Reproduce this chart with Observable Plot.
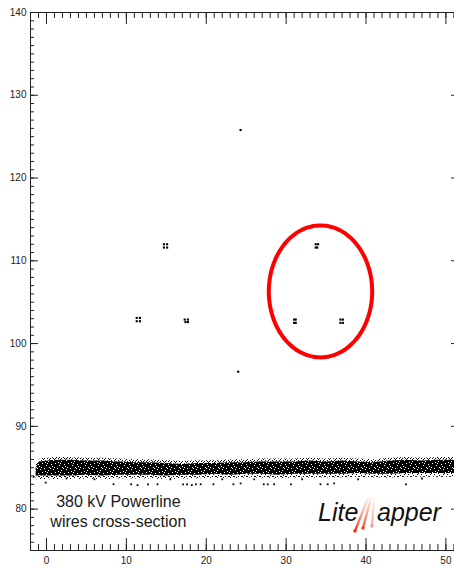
<!DOCTYPE html>
<html>
<head>
<meta charset="utf-8">
<script src="https://cdn.jsdelivr.net/npm/d3@7"></script>
<script src="https://cdn.jsdelivr.net/npm/@observablehq/plot@0.6"></script>
<style>
  html, body { margin: 0; padding: 0; background: #fff; overflow: hidden; }
  #wrap { width: 454px; height: 568px; overflow: hidden; position: relative; }
  #wrap svg { max-width: none !important; }
</style>
</head>
<body>
<div id="wrap"></div>
<script>
// ---- data ----
const xDomain = [-2, 51.7];
const yDomain = [75, 140];
const xMajor = [0, 10, 20, 30, 40, 50];
const xMinor = d3.range(-1, 52, 1);
const yMajor = [80, 90, 100, 110, 120, 130, 140];
const yMinor = d3.range(76, 140, 1);

// wire returns (x, y) in metres
const wireX = [11.3, 11.7, 11.3, 11.7,  14.7, 15.1, 14.7, 15.1,  17.3, 17.7, 17.4, 17.7,
               31.0, 31.2, 31.0, 31.2,  33.7, 34.0, 33.7, 33.9,  36.8, 37.1, 36.8, 37.1,
               24.0, 24.3];
const wireY = [103.1, 103.1, 102.7, 102.7,  112.0, 112.0, 111.6, 111.6,  102.9, 102.9, 102.6, 102.6,
               102.9, 102.9, 102.5, 102.5,  112.0, 112.0, 111.6, 111.6,  102.9, 102.9, 102.5, 102.5,
               96.6, 125.8];

// ground surface returns: upper / lower edge of the dense band
const groundX   = [-1.3, -0.8, 1, 3, 5, 7, 9, 11, 13, 15, 17, 19, 21, 23, 25, 27, 29, 31, 33, 35, 37, 39, 41, 43, 45, 47, 49, 51.7];
const groundTop = [85.0, 85.7, 85.9, 85.9, 85.8, 85.8, 85.7, 85.6, 85.6, 85.5, 85.4, 85.5, 85.5, 85.6, 85.6, 85.7, 85.7, 85.7, 85.8, 85.7, 85.8, 85.7, 85.6, 85.8, 85.9, 85.8, 85.9, 85.9];
const groundBot = [84.0, 84.0, 84.0, 84.0, 84.1, 84.0, 84.1, 84.1, 84.1, 84.0, 84.1, 84.1, 84.2, 84.1, 84.2, 84.2, 84.1, 84.2, 84.2, 84.2, 84.2, 84.3, 84.2, 84.2, 84.3, 84.3, 84.3, 84.3];

// scattered returns below the ground band
const lowX = [-1.6, -0.1, 2.5, 6, 8.4, 10.6, 11.4, 12.7, 13.9, 15.5, 17.1, 17.6, 18.2, 18.7, 19.3, 20.9, 22, 23.4, 24.3, 26, 27.2, 27.7, 28.5, 30.6, 32, 34.3, 35.2, 36.0, 39, 45.0, 47];
const lowY = [83.9, 83.2, 83.7, 83.6, 83.0, 83.0, 82.9, 83.0, 83.0, 83.6, 83.0, 83.0, 82.9, 83.0, 83.0, 83.0, 83.6, 83.0, 83.1, 83.6, 83.0, 83.0, 83.0, 83.0, 83.6, 83.0, 83.0, 83.1, 83.6, 83.0, 83.7];

// highlighted ellipse (centre and radii, metres)
const ellipseCenter = [34.3, 106.3];
const ellipseRadii = [6.47, 7.97];

const titleLines = ["380 kV Powerline", "wires cross-section"];

// ---- build ----
const W = 460, H = 568, mL = 30, mR = 1, mT = 12, mB = 18;
const innerW = W - mL - mR, innerH = H - mT - mB;

const wires = wireX.map((x, i) => ({x, y: wireY[i]}));
const ground = groundX.map((x, i) => ({x, top: groundTop[i], bot: groundBot[i]}));
const low = lowX.map((x, i) => ({x, y: lowY[i]}));
const ell = d3.range(0, 361, 4).map(a => ({
  x: ellipseCenter[0] + ellipseRadii[0] * Math.cos(a * Math.PI / 180),
  y: ellipseCenter[1] + ellipseRadii[1] * Math.sin(a * Math.PI / 180)
}));

const chart = Plot.plot({
  width: W, height: H,
  marginLeft: mL, marginRight: mR, marginTop: mT, marginBottom: mB,
  style: {fontFamily: "'Liberation Sans', Arial, sans-serif", fontSize: "10px", color: "#222", background: "#fff"},
  x: {domain: xDomain, label: null},
  y: {domain: yDomain, label: null},
  marks: [
    // fringe above and below the dense band
    Plot.areaY(ground, {x: "x", y1: "top", y2: d => d.top + 0.35, fill: "url(#sparse)"}),
    Plot.areaY(ground, {x: "x", y1: d => d.bot - 0.45, y2: "bot", fill: "url(#sparse2)"}),
    Plot.areaY(ground, {x: "x", y1: "bot", y2: "top", fill: "url(#speckle)"}),
    Plot.dot(low, {x: "x", y: "y", symbol: "square", r: 1.0, fill: "black", stroke: null}),
    Plot.dot(wires, {x: "x", y: "y", symbol: "square", r: 1.2, fill: "black", stroke: null}),
    Plot.line(ell, {x: "x", y: "y", stroke: "#f00", strokeWidth: 4, curve: "catmull-rom"}),
    // inward ticks, IDL style
    Plot.tickX(xMinor, {x: d => d, insetTop: innerH - 6, stroke: "#222"}),
    Plot.tickX(xMajor, {x: d => d, insetTop: innerH - 12, stroke: "#222"}),
    Plot.tickX(xMinor, {x: d => d, insetBottom: innerH - 6, stroke: "#222"}),
    Plot.tickX(xMajor, {x: d => d, insetBottom: innerH - 12, stroke: "#222"}),
    Plot.tickY(yMinor, {y: d => d, insetRight: innerW - 4, stroke: "#222"}),
    Plot.tickY(yMajor, {y: d => d, insetRight: innerW - 8, stroke: "#222"}),
    Plot.tickY(yMinor, {y: d => d, insetLeft: innerW - 4, stroke: "#222"}),
    Plot.tickY(yMajor, {y: d => d, insetLeft: innerW - 8, stroke: "#222"}),
    Plot.frame({stroke: "#222"}),
    Plot.axisX({ticks: xMajor, tickSize: 0, tickPadding: 6, tickFormat: d => String(d), fontSize: 10, label: null}),
    Plot.axisY({ticks: yMajor, tickSize: 0, tickPadding: 4, tickFormat: d => String(d), fontSize: 10, label: null}),
    Plot.text([titleLines[0]], {x: 9.0, y: 80.2, text: d => d, fontSize: 16, fill: "#1a1a1a", lineAnchor: "bottom", textAnchor: "middle"}),
    Plot.text([titleLines[1]], {x: 9.0, y: 77.8, text: d => d, fontSize: 16, fill: "#1a1a1a", lineAnchor: "bottom", textAnchor: "middle"})
  ]
});
chart.style.maxWidth = "none";
chart.style.height = H + "px";
document.getElementById("wrap").appendChild(chart);

// patterns for the speckled ground band + logo gradients
const svg = d3.select(chart);
const defs = svg.insert("defs", ":first-child");
function pattern(id, w, h, bg, holes, fg) {
  const p = defs.append("pattern").attr("id", id).attr("patternUnits", "userSpaceOnUse")
    .attr("width", w).attr("height", h);
  p.append("rect").attr("width", w).attr("height", h).attr("fill", bg);
  holes.forEach(([a, b]) =>
    p.append("rect").attr("x", a).attr("y", b).attr("width", 1).attr("height", 1).attr("fill", fg));
}
pattern("speckle", 13, 9, "#000",
  [[1, 1], [5, 0], [9, 2], [12, 5], [3, 4], [7, 6], [10, 8], [0, 7], [6, 3], [11, 0], [2, 8], [8, 4]], "#fff");
pattern("sparse", 11, 3, "none",
  [[0, 2], [1, 1], [3, 2], [5, 0], [6, 2], [8, 1], [9, 2], [10, 0], [4, 1]], "#000");
pattern("sparse2", 13, 4, "none",
  [[0, 0], [2, 1], [4, 0], [5, 2], [7, 0], [9, 1], [10, 3], [12, 0], [1, 2], [8, 0]], "#000");

const grad = defs.append("linearGradient").attr("id", "beam").attr("gradientUnits", "userSpaceOnUse")
  .attr("x1", 0).attr("y1", 497).attr("x2", 0).attr("y2", 530);
grad.append("stop").attr("offset", 0).attr("stop-color", "#ff6040").attr("stop-opacity", 0.05);
grad.append("stop").attr("offset", 1).attr("stop-color", "#e83a15").attr("stop-opacity", 1);
const grad2 = defs.append("linearGradient").attr("id", "beam2").attr("gradientUnits", "userSpaceOnUse")
  .attr("x1", 0).attr("y1", 497).attr("x2", 0).attr("y2", 528);
grad2.append("stop").attr("offset", 0).attr("stop-color", "#f5b0a0").attr("stop-opacity", 0.05);
grad2.append("stop").attr("offset", 1).attr("stop-color", "#f0a090").attr("stop-opacity", 1);

// LiteMapper logo (decoration)
const logo = svg.append("g").attr("class", "logo").attr("text-anchor", "start");
logo.append("text").attr("x", 318).attr("y", 521).text("Lite")
  .attr("font-family", "'Liberation Sans', Arial, sans-serif").attr("font-style", "italic")
  .attr("font-size", 25).attr("fill", "#111").attr("text-anchor", "start");
logo.append("text").attr("x", 377).attr("y", 521).text("apper")
  .attr("font-family", "'Liberation Sans', Arial, sans-serif").attr("font-style", "italic")
  .attr("font-size", 25).attr("fill", "#111").attr("text-anchor", "start");
[[368, 498, 355, 531, "url(#beam)"], [371, 498, 363, 528, "url(#beam)"], [374, 498, 372, 526, "url(#beam2)"]]
  .forEach(([x1, y1, x2, y2, c]) => {
    logo.append("line").attr("x1", x1).attr("y1", y1).attr("x2", x2).attr("y2", y2)
      .attr("stroke", c).attr("stroke-width", 2.2).attr("stroke-linecap", "round");
  });
[[355, 531, "#e83a15"], [363, 528, "#e84a25"], [372, 526, "#f0a090"]].forEach(([cx, cy, c]) =>
  logo.append("circle").attr("cx", cx).attr("cy", cy).attr("r", 1.8).attr("fill", c));
</script>
</body>
</html>
